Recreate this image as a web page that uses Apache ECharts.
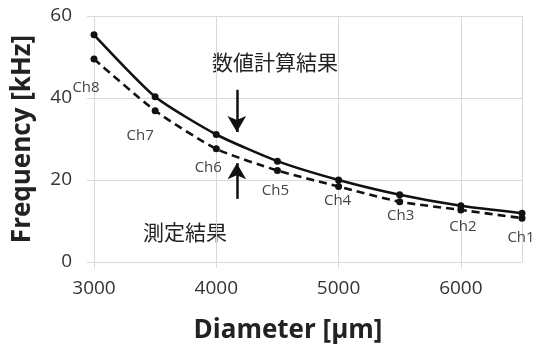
<!DOCTYPE html>
<html>
<head>
<meta charset="utf-8">
<script src="https://cdn.jsdelivr.net/npm/echarts@6/dist/echarts.min.js"></script>
<style>
  html, body { margin: 0; padding: 0; background: #fff; }
  #chart { width: 544px; height: 358px; }
</style>
</head>
<body>
<div id="chart"></div>
<script>
  // diameters [um] and channels
  var diameters = [3000, 3500, 4000, 4500, 5000, 5500, 6000, 6500];
  var channels = ['Ch8', 'Ch7', 'Ch6', 'Ch5', 'Ch4', 'Ch3', 'Ch2', 'Ch1'];
  // 数値計算結果 (solid) and 測定結果 (dashed), kHz
  var calcFreq = [55.4, 40.3, 31.1, 24.6, 20.0, 16.4, 13.7, 11.9];
  var measFreq = [49.5, 36.9, 27.6, 22.3, 18.4, 14.7, 12.7, 10.7];
  var xTicks = [3000, 4000, 5000, 6000];
  var yTicks = [0, 20, 40, 60];

  // label offsets for the channel names (style only)
  var chOffsets = [[-8, 29], [-15, 25], [-8, 19], [-2, 20], [-1, 14], [1, 14], [2, 17], [-1, 20]];

  var grey = '#d9d9d9';
  var font = '"Open Sans", "Noto Sans", sans-serif';
  var jpFont = '"Noto Sans CJK JP", sans-serif';

  var myChart = echarts.init(document.getElementById('chart'));
  myChart.setOption({
    animation: false,
    grid: { left: 94, right: 22, top: 16, bottom: 96, outerBoundsMode: 'none', containLabel: false },
    xAxis: {
      type: 'value',
      min: xTicks[0],
      max: diameters[diameters.length - 1],
      interval: xTicks[1] - xTicks[0],
      name: 'Diameter [μm]',
      nameLocation: 'middle',
      nameGap: 56,
      nameTextStyle: { fontFamily: font, fontWeight: 'bold', fontSize: 26, color: '#222', padding: [0, 40, 0, 0] },
      axisLine: { show: false },
      axisTick: { show: true, length: 6, lineStyle: { color: grey } },
      axisLabel: {
        fontFamily: font, fontSize: 19, color: '#333', margin: 17,
        showMaxLabel: false,
        formatter: function (v) { return xTicks.indexOf(v) >= 0 ? String(v) : ''; }
      },
      splitLine: { show: true, lineStyle: { color: grey, width: 1 } }
    },
    yAxis: {
      type: 'value',
      min: yTicks[0],
      max: yTicks[yTicks.length - 1],
      interval: yTicks[1] - yTicks[0],
      name: 'Frequency [kHz]',
      nameLocation: 'middle',
      nameGap: 46,
      nameTextStyle: { fontFamily: font, fontWeight: 'bold', fontSize: 26, color: '#222', padding: [0, 0, 12, 0] },
      axisLine: { show: false },
      axisTick: { show: true, length: 7, lineStyle: { color: grey } },
      axisLabel: { fontFamily: font, fontSize: 19, color: '#333', margin: 22 },
      splitLine: { show: true, lineStyle: { color: grey, width: 1 } }
    },
    series: [
      {
        name: '数値計算結果',
        type: 'line',
        smooth: 0.2,
        symbol: 'circle',
        symbolSize: 7,
        itemStyle: { color: '#111' },
        lineStyle: { color: '#111', width: 2.6 },
        data: diameters.map(function (d, i) { return [d, calcFreq[i]]; }),
        markLine: {
          silent: true,
          symbol: ['none', 'arrow'],
          symbolSize: [14, 16],
          label: { show: false },
          lineStyle: { color: '#111', width: 2.5, type: 'solid' },
          data: [
            [{ coord: [4168, 42] }, { coord: [4168, 31.7] }],
            [{ coord: [4168, 15.4] }, { coord: [4168, 24.1] }]
          ]
        }
      },
      {
        name: '測定結果',
        type: 'line',
        smooth: 0.2,
        symbol: 'circle',
        symbolSize: 7,
        itemStyle: { color: '#111' },
        lineStyle: { color: '#111', width: 2.6, type: [8, 5] },
        data: diameters.map(function (d, i) {
          return {
            value: [d, measFreq[i]],
            label: {
              show: true,
              position: 'inside',
              offset: chOffsets[i],
              formatter: channels[i],
              fontFamily: font,
              fontSize: 15,
              color: '#444'
            }
          };
        })
      }
    ],
    graphic: [
      {
        type: 'text', left: 212, top: 52,
        style: { text: '数値計算結果', font: '21px ' + jpFont, fill: '#222' }
      },
      {
        type: 'text', left: 143, top: 222,
        style: { text: '測定結果', font: '21px ' + jpFont, fill: '#222' }
      }
    ]
  });
</script>
</body>
</html>
